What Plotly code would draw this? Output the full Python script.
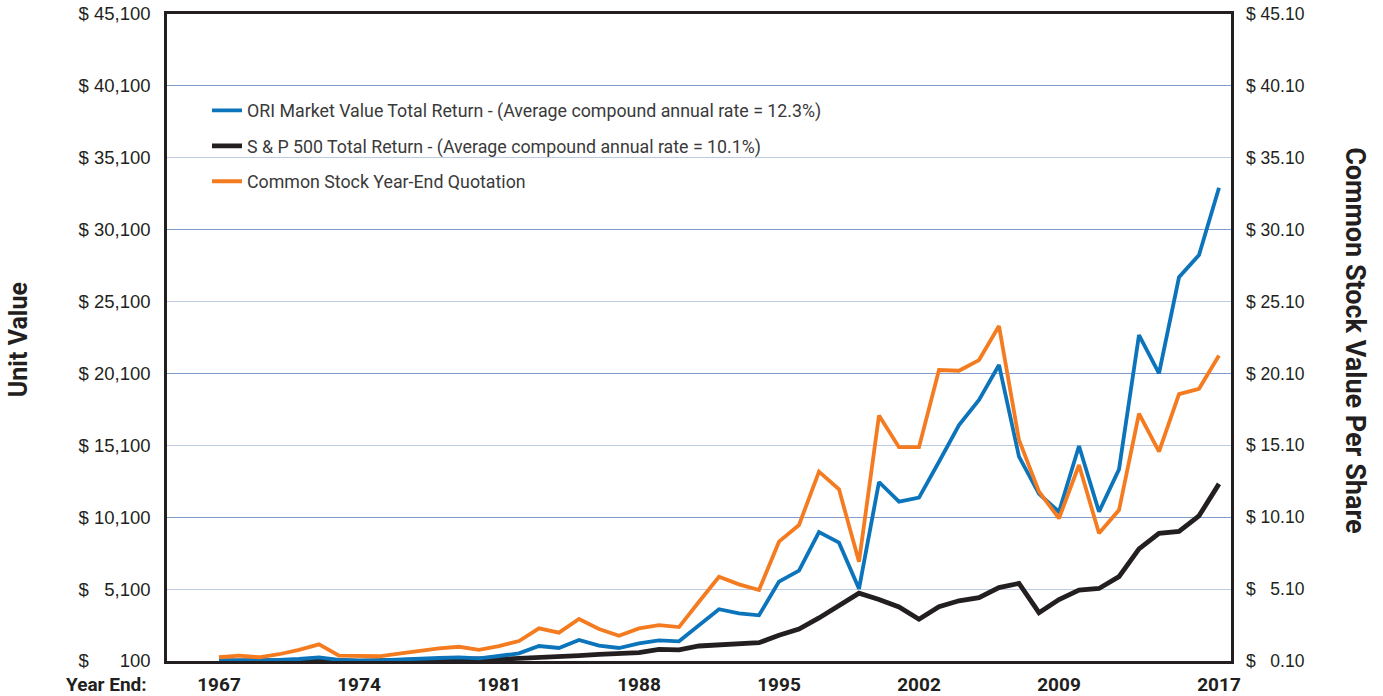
import plotly.graph_objects as go

years = list(range(1967, 2018))

ori_total_return = [100, 105, 123, 170, 239, 357, 170, 123, 146, 216, 262, 309, 357, 286, 448, 633,
                    1143, 1004, 1560, 1166, 1004, 1330, 1530, 1470, 2580, 3700, 3420, 3280, 5620,
                    6380, 9070, 8330, 5120, 12550, 11180, 11460, 13960, 16510, 18250, 20690, 14310,
                    11720, 10480, 15050, 10480, 13430, 22770, 20110, 26790, 28340, 33020]

sp500_total_return = [100, 111, 102, 106, 121, 144, 123, 90, 124, 153, 142, 152, 180, 238, 226, 275,
                      337, 358, 471, 559, 589, 687, 904, 876, 1143, 1230, 1354, 1372, 1888, 2321,
                      3095, 3980, 4817, 4379, 3858, 3006, 3868, 4289, 4500, 5210, 5496, 3462, 4378,
                      5038, 5144, 5967, 7900, 8982, 9106, 10195, 12419]

stock_quote = [0.36, 0.47, 0.36, 0.57, 0.87, 1.26, 0.47, 0.43, 0.43, 0.61, 0.80, 0.98, 1.09, 0.87,
               1.14, 1.49, 2.37, 2.07, 3.02, 2.33, 1.86, 2.37, 2.60, 2.46, 4.22, 5.96, 5.43, 5.04,
               8.40, 9.56, 13.27, 12.04, 7.00, 17.18, 14.97, 14.97, 20.34, 20.29, 21.03, 23.40,
               15.47, 11.88, 10.02, 13.73, 8.98, 10.60, 17.30, 14.66, 18.66, 19.03, 21.35]

series_names = ["ORI Market Value Total Return - (Average compound annual rate = 12.3%)",
                "S & P 500 Total Return - (Average compound annual rate = 10.1%)",
                "Common Stock Year-End Quotation"]

x_tick_years = [1967, 1974, 1981, 1988, 1995, 2002, 2009, 2017]

FS = "\u2007"  # figure space
PS = "\u2008"  # punctuation space
left_tick_vals = [100, 5100, 10100, 15100, 20100, 25100, 30100, 35100, 40100, 45100]
left_tick_text = ["$ " + FS + FS + PS + "100", "$ " + FS + "5,100", "$ 10,100", "$ 15,100",
                  "$ 20,100", "$ 25,100", "$ 30,100", "$ 35,100", "$ 40,100", "$ 45,100"]
right_tick_vals = [0.1, 5.1, 10.1, 15.1, 20.1, 25.1, 30.1, 35.1, 40.1, 45.1]
right_tick_text = ["$ " + FS + "0.10", "$ " + FS + "5.10", "$ 10.10", "$ 15.10", "$ 20.10",
                   "$ 25.10", "$ 30.10", "$ 35.10", "$ 40.10", "$ 45.10"]

BLUE = "#0b74bb"
BLACK = "#231f20"
ORANGE = "#f47b20"
GRID_LIGHT = "#bccbe3"
GRID_DARK = "#809ccb"

fig = go.Figure()
fig.add_trace(go.Scatter(x=years, y=sp500_total_return, mode="lines", name=series_names[1],
                         line=dict(color=BLACK, width=4.8), legendrank=2, legendgroup="b"))
fig.add_trace(go.Scatter(x=years, y=stock_quote, mode="lines", name=series_names[2], yaxis="y2",
                         line=dict(color=ORANGE, width=3.8), legendrank=3, legendgroup="c"))
fig.add_trace(go.Scatter(x=years, y=ori_total_return, mode="lines", name=series_names[0],
                         line=dict(color=BLUE, width=3.8), legendrank=1, legendgroup="a"))

fig.update_layout(
    width=1383, height=696,
    margin=dict(l=167, r=152, t=14, b=35),
    paper_bgcolor="white", plot_bgcolor="white",
    showlegend=True,
    legend=dict(x=0.0376, y=0.879, xanchor="left", yanchor="top", bgcolor="rgba(0,0,0,0)",
                font=dict(family="Roboto", size=17.8, color="#3a3a3a"), tracegroupgap=9.3,
                itemwidth=30),
    xaxis=dict(range=[1964.4, 2017.6], tickvals=x_tick_years, ticktext=[str(v) for v in x_tick_years],
               showgrid=False, zeroline=False, showline=True, mirror=True, linecolor=BLACK,
               linewidth=2.5, ticks="", ticklabelstandoff=4, automargin=False,
               ticklabeloverflow="allow",
               tickfont=dict(family="Roboto", size=19, color="#231f20", weight="bold")),
    yaxis=dict(range=[100, 45100], tickvals=left_tick_vals, ticktext=left_tick_text,
               showgrid=False, zeroline=False, showline=True, mirror=True, linecolor=BLACK,
               linewidth=2.5, ticks="", ticklabelstandoff=10, automargin=False,
               ticklabeloverflow="allow",
               tickfont=dict(family="Liberation Sans", size=18.5, color="#231f20"),
               minor=dict(tickvals=[5100, 15100, 25100, 35100], showgrid=True,
                          gridcolor=GRID_LIGHT, gridwidth=1.3, ticks="")),
    yaxis2=dict(range=[0.1, 45.1], overlaying="y", side="right", tickvals=right_tick_vals,
                ticktext=right_tick_text, showgrid=False, zeroline=False, showline=False,
                ticks="", ticklabelstandoff=14, automargin=False, ticklabeloverflow="allow",
                tickfont=dict(family="Liberation Sans", size=17.5, color="#231f20"),
                minor=dict(tickvals=[10.1, 20.1, 30.1, 40.1], showgrid=True,
                           gridcolor=GRID_DARK, gridwidth=1.1, ticks="")),
    annotations=[
        dict(text="Year End:", xref="paper", yref="paper", x=-0.0165, y=-0.036, xanchor="right",
             yanchor="middle", showarrow=False,
             font=dict(family="Roboto", size=19, color="#231f20", weight="bold")),
        dict(text="Unit Value", xref="paper", yref="paper", x=-0.140, y=0.496, xanchor="center",
             yanchor="middle", showarrow=False, textangle=-90,
             font=dict(family="Roboto", size=25, color="#231f20", weight="bold")),
        dict(text="Common Stock Value Per Share", xref="paper", yref="paper", x=1.1165, y=0.496,
             xanchor="center", yanchor="middle", showarrow=False, textangle=90,
             font=dict(family="Roboto", size=27, color="#231f20", weight="bold")),
    ],
)

fig.write_html("out.html", config={"displayModeBar": False},
               post_script="document.body.style.margin='0';document.body.style.overflow='hidden';")
